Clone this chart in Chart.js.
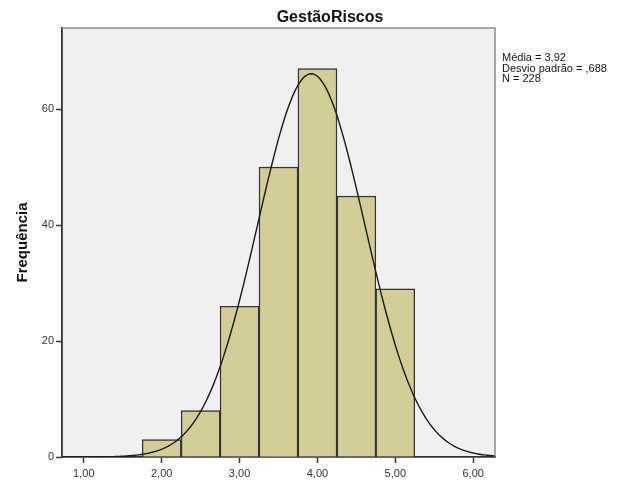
<!DOCTYPE html>
<html>
<head>
<meta charset="utf-8">
<script src="https://cdn.jsdelivr.net/npm/chart.js@4.4.1/dist/chart.umd.min.js"></script>
<style>
  html, body { margin: 0; padding: 0; background: #fff; }
  #wrap { width: 617px; height: 487px; }
</style>
</head>
<body>
<div id="wrap"><canvas id="hist" width="617" height="487"></canvas></div>
<script>
// histogram bins (centres) and counts
const binCenters = [2.0, 2.5, 3.0, 3.5, 4.0, 4.5, 5.0];
const frequencies = [3, 8, 26, 50, 67, 45, 29];
const binWidth = 0.5;

// summary statistics shown next to the plot
const mean = 3.92;
const stdDev = 0.688;
const total = 228;

const xTicks = [1, 2, 3, 4, 5, 6];
const xTickLabels = ['1,00', '2,00', '3,00', '4,00', '5,00', '6,00'];
const yTicks = [0, 20, 40, 60];
const yTickLabels = ['0', '20', '40', '60'];

const chartTitle = 'GestãoRiscos';
const yTitle = 'Frequência';
const statsLines = ['Média = 3,92', 'Desvio padrão = ,688', 'N = 228'];

const xMin = 0.72, xMax = 6.28, yMax = 74;

// normal curve scaled to the histogram (count per bin)
const curve = [];
for (let x = xMin; x <= xMax + 1e-9; x += 0.02) {
  const z = (x - mean) / stdDev;
  const y = total * binWidth * Math.exp(-0.5 * z * z) / (stdDev * Math.sqrt(2 * Math.PI));
  curve.push({ x: +x.toFixed(2), y: y });
}

const font = "Arial, 'Liberation Sans', sans-serif";

const plotFrame = {
  id: 'plotFrame',
  beforeDraw(chart) {
    const { ctx, chartArea: a } = chart;
    ctx.save();
    ctx.fillStyle = '#f0f0f0';
    ctx.fillRect(a.left, a.top, a.right - a.left, a.bottom - a.top);
    ctx.restore();
  },
  afterDraw(chart) {
    const { ctx, chartArea: a } = chart;
    ctx.save();
    ctx.strokeStyle = '#8c8c8c';
    ctx.lineWidth = 1.5;
    ctx.beginPath();
    ctx.moveTo(a.left, a.top);
    ctx.lineTo(a.right, a.top);
    ctx.lineTo(a.right, a.bottom);
    ctx.stroke();

    // title
    ctx.fillStyle = '#111';
    ctx.font = 'bold 16px ' + font;
    ctx.textAlign = 'center';
    ctx.textBaseline = 'alphabetic';
    ctx.fillText(chartTitle, 330, 22);

    // stats box
    ctx.font = '11px ' + font;
    ctx.textAlign = 'left';
    statsLines.forEach((s, i) => ctx.fillText(s, a.right + 7, 61 + i * 10.5));
    ctx.restore();
  }
};

new Chart(document.getElementById('hist'), {
  type: 'bar',
  data: {
    datasets: [
      {
        type: 'line',
        data: curve,
        borderColor: '#1a1a1a',
        borderWidth: 1.4,
        pointRadius: 0,
        tension: 0,
        order: 0
      },
      {
        type: 'bar',
        data: binCenters.map((c, i) => ({ x: c, y: frequencies[i] })),
        backgroundColor: '#d3ce97',
        borderColor: '#333',
        borderWidth: 1.4,
        barPercentage: 1,
        categoryPercentage: 1,
        order: 1
      }
    ]
  },
  options: {
    responsive: false,
    animation: false,
    layout: { padding: { left: 0, right: 122, top: 28, bottom: 0 } },
    plugins: { legend: { display: false }, tooltip: { enabled: false } },
    scales: {
      x: {
        type: 'linear',
        min: xMin,
        max: xMax,
        offset: false,
        z: 1,
        afterBuildTicks(scale) { scale.ticks = xTicks.map(v => ({ value: v })); },
        afterFit(scale) { scale.height = 30; },
        ticks: {
          callback: (v) => xTickLabels[xTicks.indexOf(v)],
          font: { family: font, size: 11 },
          color: '#333',
          padding: 4,
          maxRotation: 0
        },
        grid: { offset: false, drawOnChartArea: false, drawTicks: true, tickLength: 6, tickColor: '#333', tickWidth: 1.5 },
        border: { color: '#333', width: 1.8 }
      },
      y: {
        min: 0,
        max: yMax,
        z: 1,
        afterBuildTicks(scale) { scale.ticks = yTicks.map(v => ({ value: v })); },
        afterFit(scale) { scale.width = 62; },
        ticks: {
          callback: (v) => yTickLabels[yTicks.indexOf(v)],
          font: { family: font, size: 11 },
          color: '#333',
          padding: 2
        },
        title: {
          display: true,
          text: yTitle,
          font: { family: font, size: 15, weight: 'bold' },
          color: '#111',
          padding: { top: 14 }
        },
        grid: { drawOnChartArea: false, drawTicks: true, tickLength: 6, tickColor: '#333', tickWidth: 1.5 },
        border: { color: '#333', width: 1.8 }
      }
    }
  },
  plugins: [plotFrame]
});
</script>
</body>
</html>
